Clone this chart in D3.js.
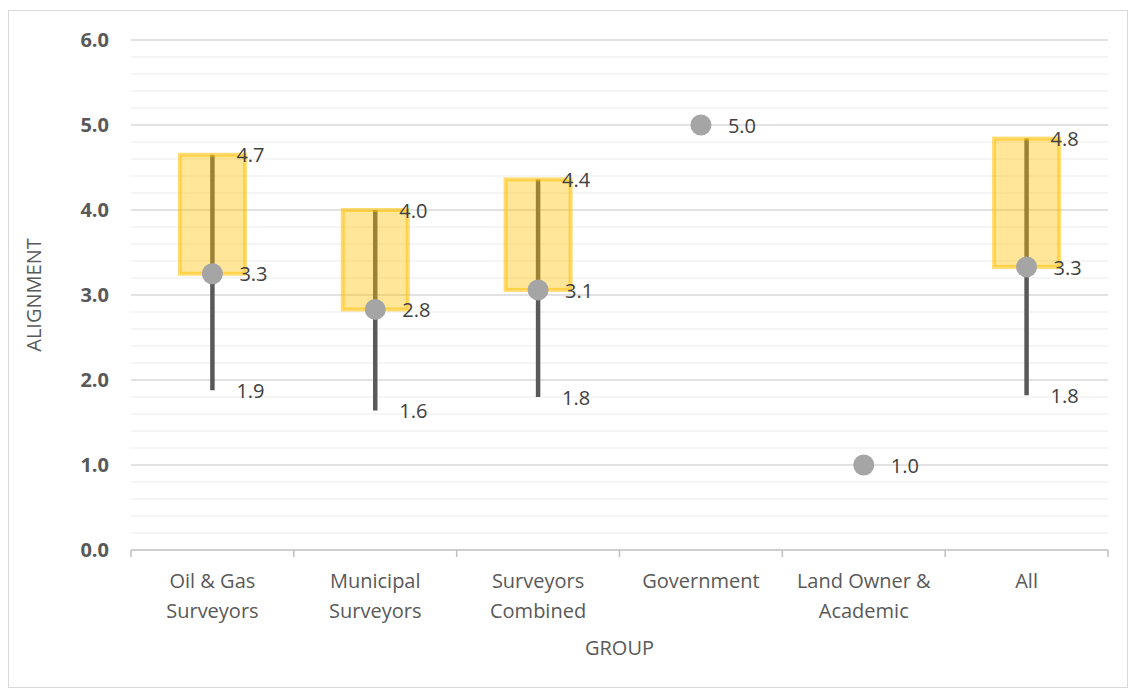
<!DOCTYPE html>
<html>
<head>
<meta charset="utf-8">
<script src="https://cdn.jsdelivr.net/npm/d3@7"></script>
<style>
  body { margin: 0; background: #fff; }
  svg { display: block; font-family: "Open Sans", sans-serif; }
</style>
</head>
<body>
<svg id="chart" width="1129" height="689"></svg>
<script>
// groups, two lines each for the axis labels
var groups = ["Oil & Gas Surveyors", "Municipal Surveyors", "Surveyors Combined", "Government", "Land Owner & Academic", "All"];
var groupLines = [["Oil & Gas", "Surveyors"], ["Municipal", "Surveyors"], ["Surveyors", "Combined"], ["Government"], ["Land Owner &", "Academic"], ["All"]];
// box top (high), dot / box bottom (mid), whisker end (low); null = no box
var highVals = [4.65, 4.0, 4.36, null, null, 4.84];
var midVals  = [3.25, 2.83, 3.06, 5.0, 1.0, 3.33];
var lowVals  = [1.88, 1.64, 1.80, null, null, 1.82];
var yTicks = [0, 1, 2, 3, 4, 5, 6];

var svg = d3.select("#chart");
var margin = {left: 131, right: 21, top: 40, bottom: 139};
var W = 1129, H = 689;

// outer frame
svg.append("rect")
    .attr("x", 8.5).attr("y", 10.5)
    .attr("width", W - 10).attr("height", H - 12)
    .attr("fill", "#fff").attr("stroke", "#D9D9D9").attr("stroke-width", 1);

var x = d3.scaleBand()
    .domain(groups)
    .range([margin.left, W - margin.right]);

var y = d3.scaleLinear()
    .domain([0, 6])
    .range([H - margin.bottom, margin.top]);

var g = svg.append("g");

// minor gridlines
g.selectAll("line.minor")
    .data(d3.range(0, 30).map(function(i) { return i * 0.2; }).filter(function(v, i) { return i % 5 !== 0; }))
    .enter().append("line")
    .attr("class", "minor")
    .attr("x1", margin.left).attr("x2", W - margin.right)
    .attr("y1", function(d) { return y(d); }).attr("y2", function(d) { return y(d); })
    .attr("stroke", "#F2F2F2").attr("stroke-width", 1.5);

// major gridlines
g.selectAll("line.major")
    .data(yTicks.filter(function(d) { return d > 0; }))
    .enter().append("line")
    .attr("class", "major")
    .attr("x1", margin.left).attr("x2", W - margin.right)
    .attr("y1", function(d) { return y(d); }).attr("y2", function(d) { return y(d); })
    .attr("stroke", "#D9D9D9").attr("stroke-width", 1.5);

// y tick labels
g.selectAll("text.ytick")
    .data(yTicks)
    .enter().append("text")
    .attr("class", "ytick")
    .attr("x", 109)
    .attr("y", function(d) { return y(d); })
    .attr("dy", "0.35em")
    .attr("text-anchor", "end")
    .attr("font-size", 20)
    .attr("font-weight", "bold")
    .attr("fill", "#595959")
    .text(function(d) { return d3.format(".1f")(d); });

// x axis line + ticks
g.append("line")
    .attr("x1", margin.left).attr("x2", W - margin.right)
    .attr("y1", y(0)).attr("y2", y(0))
    .attr("stroke", "#BFBFBF").attr("stroke-width", 1.5);

var bounds = groups.map(function(d) { return x(d); }).concat([W - margin.right]);
g.selectAll("line.xtick")
    .data(bounds)
    .enter().append("line")
    .attr("x1", function(d) { return d; }).attr("x2", function(d) { return d; })
    .attr("y1", y(0)).attr("y2", y(0) + 7)
    .attr("stroke", "#BFBFBF").attr("stroke-width", 1.5);

// x labels
groups.forEach(function(gr, i) {
  var t = g.append("text")
      .attr("text-anchor", "middle")
      .attr("font-size", 20)
      .attr("fill", "#595959");
  groupLines[i].forEach(function(line, j) {
    t.append("tspan")
        .attr("x", x(gr) + x.bandwidth() / 2)
        .attr("y", 588 + j * 30)
        .text(line);
  });
});

// axis titles
svg.append("text")
    .attr("x", (margin.left + W - margin.right) / 2)
    .attr("y", 655)
    .attr("text-anchor", "middle")
    .attr("font-size", 20)
    .attr("fill", "#595959")
    .text("GROUP");

svg.append("text")
    .attr("transform", "translate(41," + y(3) + ") rotate(-90)")
    .attr("text-anchor", "middle")
    .attr("font-size", 20)
    .attr("fill", "#595959")
    .text("ALIGNMENT");

var cx = function(i) { return x(groups[i]) + x.bandwidth() / 2; };
var idx = d3.range(groups.length);
var withBox = idx.filter(function(i) { return highVals[i] !== null; });
var boxW = 65;

// whiskers (low to high)
g.selectAll("line.whisker")
    .data(withBox)
    .enter().append("line")
    .attr("x1", cx).attr("x2", cx)
    .attr("y1", function(i) { return y(lowVals[i]); })
    .attr("y2", function(i) { return y(highVals[i]); })
    .attr("stroke", "#595959").attr("stroke-width", 4.5);

// boxes
g.selectAll("rect.box")
    .data(withBox)
    .enter().append("rect")
    .attr("x", function(i) { return cx(i) - boxW / 2; })
    .attr("y", function(i) { return y(highVals[i]); })
    .attr("width", boxW)
    .attr("height", function(i) { return y(midVals[i]) - y(highVals[i]); })
    .attr("fill", "#FFC000").attr("fill-opacity", 0.4)
    .attr("stroke", "#FFC000").attr("stroke-opacity", 0.55).attr("stroke-width", 4);

// dots
g.selectAll("circle.dot")
    .data(idx)
    .enter().append("circle")
    .attr("cx", cx)
    .attr("cy", function(i) { return y(midVals[i]); })
    .attr("r", 10.5)
    .attr("fill", "#A5A5A5");

// data labels
var fmt = d3.format(".1f");
var labels = [];
idx.forEach(function(i) {
  if (highVals[i] !== null) labels.push({i: i, v: highVals[i]});
  labels.push({i: i, v: midVals[i], dot: true});
  if (lowVals[i] !== null) labels.push({i: i, v: lowVals[i]});
});
g.selectAll("text.dlabel")
    .data(labels)
    .enter().append("text")
    .attr("x", function(d) { return cx(d.i) + (d.dot ? 27 : 24); })
    .attr("y", function(d) { return y(d.v); })
    .attr("dy", "0.38em")
    .attr("font-size", 20)
    .attr("fill", "#404040")
    .text(function(d) { return fmt(d.v); });
</script>
</body>
</html>
